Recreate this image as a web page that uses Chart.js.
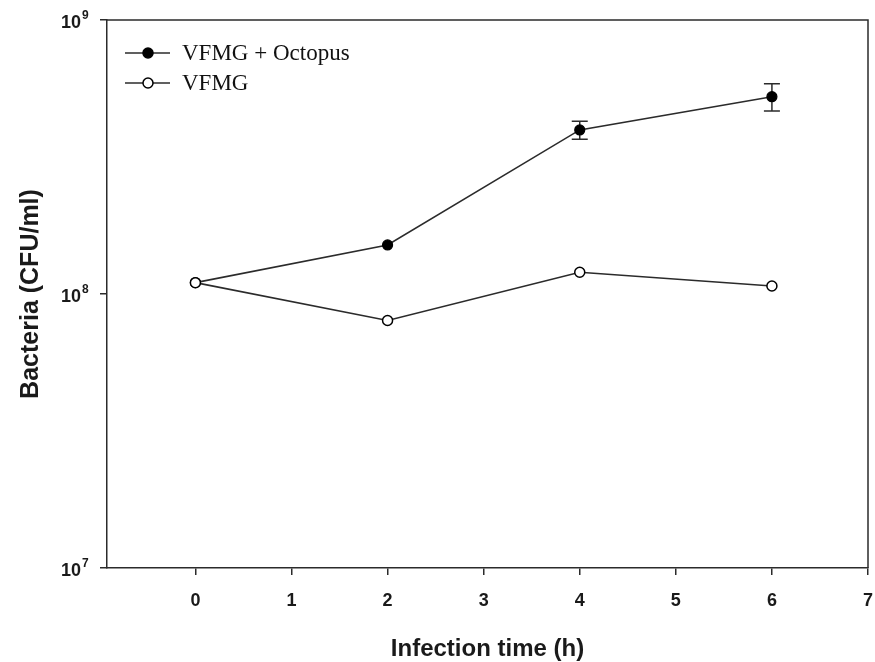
<!DOCTYPE html>
<html>
<head>
<meta charset="utf-8">
<script src="https://cdn.jsdelivr.net/npm/chart.js@4/dist/chart.umd.min.js"></script>
<style>
  html, body { margin: 0; padding: 0; background: #fff; }
  #wrap { width: 875px; height: 662px; position: relative; }
</style>
</head>
<body>
<div id="wrap"><canvas id="growthChart"></canvas></div>
<script>
// ===== Data =====
const hours = [0, 2, 4, 6];
const octopusCfu = [1.10e8, 1.51e8, 3.97e8, 5.25e8];
const octopusErr = [0, 0, 0.30e8, 0.60e8];
const vfmgCfu = [1.10e8, 0.80e8, 1.20e8, 1.07e8];
const vfmgErr = [0, 0, 0, 0];
const xTicks = [0, 1, 2, 3, 4, 5, 6, 7];
const yTickExp = [7, 8, 9];
const seriesNames = ["VFMG + Octopus", "VFMG"];

const INK = "#2b2b2b";
const LABEL_FONT = "'Liberation Sans', Arial, sans-serif";
const SERIF = "'Liberation Serif', 'Times New Roman', serif";

function toPoints(xs, ys) {
  return xs.map((x, i) => ({ x: x, y: ys[i] }));
}

// ===== Plugins =====
// error bars, drawn behind the markers
const errorBars = {
  id: "errorBars",
  beforeDatasetsDraw(chart) {
    const { ctx, scales } = chart;
    ctx.save();
    ctx.strokeStyle = INK;
    ctx.lineWidth = 1.5;
    chart.data.datasets.forEach(ds => {
      ds.data.forEach((p, i) => {
        const e = ds.errors[i];
        if (!e) return;
        const x = scales.x.getPixelForValue(p.x);
        const top = scales.y.getPixelForValue(p.y + e);
        const bot = scales.y.getPixelForValue(p.y - e);
        ctx.beginPath();
        ctx.moveTo(x, top); ctx.lineTo(x, bot);
        ctx.moveTo(x - 8, top); ctx.lineTo(x + 8, top);
        ctx.moveTo(x - 8, bot); ctx.lineTo(x + 8, bot);
        ctx.stroke();
      });
    });
    ctx.restore();
  }
};

// frame, y labels with exponents, legend
const decorations = {
  id: "decorations",
  afterDraw(chart) {
    const { ctx, chartArea: a, scales } = chart;
    ctx.save();
    ctx.strokeStyle = INK;
    ctx.lineWidth = 1.5;
    ctx.beginPath();
    ctx.moveTo(a.left, a.top); ctx.lineTo(a.right, a.top); ctx.lineTo(a.right, a.bottom);
    ctx.stroke();

    // 10^n labels
    ctx.fillStyle = "#1a1a1a";
    ctx.textBaseline = "alphabetic";
    yTickExp.forEach(n => {
      const y = scales.y.getPixelForValue(Math.pow(10, n));
      ctx.font = "bold 18px " + LABEL_FONT;
      ctx.textAlign = "right";
      const baseX = a.left - 26;
      ctx.fillText("10", baseX, y + 8);
      ctx.font = "bold 12px " + LABEL_FONT;
      ctx.textAlign = "left";
      ctx.fillText(String(n), baseX + 1, y - 1);
    });

    // legend
    const rows = [
      { label: seriesNames[0], fill: "#000", y: 53 },
      { label: seriesNames[1], fill: "#fff", y: 83 }
    ];
    rows.forEach(r => {
      ctx.strokeStyle = INK;
      ctx.lineWidth = 1.5;
      ctx.beginPath();
      ctx.moveTo(125, r.y); ctx.lineTo(170, r.y);
      ctx.stroke();
      ctx.beginPath();
      ctx.arc(148, r.y, 5, 0, Math.PI * 2);
      ctx.fillStyle = r.fill;
      ctx.fill();
      ctx.strokeStyle = "#000";
      ctx.stroke();
      ctx.fillStyle = "#111";
      ctx.font = "23px " + SERIF;
      ctx.textAlign = "left";
      ctx.textBaseline = "middle";
      ctx.fillText(r.label, 182, r.y + 1);
    });
    ctx.restore();
  }
};

// ===== Chart =====
// VFMG comes first so the filled markers sit underneath it at t = 0
const ctx = document.getElementById("growthChart").getContext("2d");
new Chart(ctx, {
  type: "line",
  data: {
    datasets: [
      {
        label: seriesNames[1],
        data: toPoints(hours, vfmgCfu),
        errors: vfmgErr,
        borderColor: INK,
        borderWidth: 1.6,
        pointRadius: 5,
        pointBackgroundColor: "#fff",
        pointBorderColor: "#000",
        pointBorderWidth: 1.5
      },
      {
        label: seriesNames[0],
        data: toPoints(hours, octopusCfu),
        errors: octopusErr,
        borderColor: INK,
        borderWidth: 1.6,
        pointRadius: 5,
        pointBackgroundColor: "#000",
        pointBorderColor: "#000",
        pointBorderWidth: 1.2
      }
    ]
  },
  options: {
    responsive: true,
    maintainAspectRatio: false,
    animation: false,
    layout: { padding: { top: 20, right: 7, left: 0, bottom: 0 } },
    plugins: { legend: { display: false }, tooltip: { enabled: false } },
    scales: {
      x: {
        type: "linear",
        min: -0.92,
        max: 7,
        afterBuildTicks: s => { s.ticks = xTicks.map(v => ({ value: v })); },
        afterFit: s => { s.height = 94; s.paddingRight = 0; s.paddingLeft = 0; },
        border: { color: INK, width: 1.5 },
        grid: { display: true, drawOnChartArea: false, drawTicks: true, tickLength: 7, color: INK, lineWidth: 1.5 },
        ticks: { color: "#1a1a1a", padding: 15, font: { family: LABEL_FONT, size: 18, weight: "bold" } },
        title: {
          display: true,
          text: "Infection time (h)",
          color: "#1a1a1a",
          padding: { top: 14, bottom: -2 },
          font: { family: LABEL_FONT, size: 24, weight: "bold" }
        }
      },
      y: {
        type: "logarithmic",
        min: 1e7,
        max: 1e9,
        afterBuildTicks: s => { s.ticks = yTickExp.map(n => ({ value: Math.pow(10, n) })); },
        afterFit: s => { s.width = 107; s.paddingTop = 0; s.paddingBottom = 0; },
        border: { color: INK, width: 1.5 },
        grid: { display: true, drawOnChartArea: false, drawTicks: true, tickLength: 7, color: INK, lineWidth: 1.5 },
        ticks: { callback: () => "", font: { size: 1 } },
        title: {
          display: true,
          text: "Bacteria (CFU/ml)",
          color: "#1a1a1a",
          padding: { top: 16, bottom: 0 },
          font: { family: LABEL_FONT, size: 25, weight: "bold" }
        }
      }
    }
  },
  plugins: [errorBars, decorations]
});
</script>
</body>
</html>
